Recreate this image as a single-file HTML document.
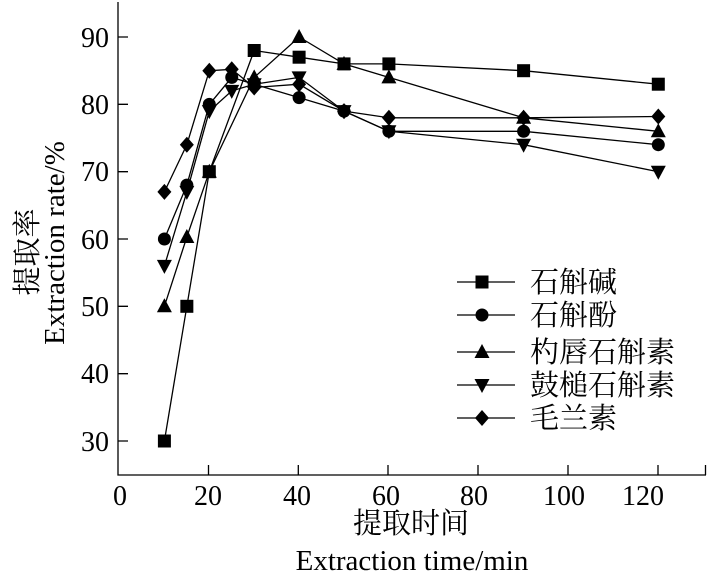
<!DOCTYPE html>
<html><head><meta charset="utf-8"><style>body{margin:0;background:#fff}</style></head><body>
<svg width="709" height="575" xmlns="http://www.w3.org/2000/svg" font-family="Liberation Serif, Noto Serif CJK SC, serif">
<defs>
<rect id="sq" x="-6.5" y="-6.5" width="13" height="13" fill="#000"/>
<circle id="ci" r="6.5" fill="#000"/>
<path id="tu" d="M0,-8 L7.5,6 L-7.5,6Z" fill="#000"/>
<path id="td" d="M0,8 L7.5,-6 L-7.5,-6Z" fill="#000"/>
<path id="di" d="M0,-8 L7,0 L0,8 L-7,0Z" fill="#000"/>
</defs>
<g stroke="#000" stroke-width="1.3" fill="none">
<path d="M118,2 V475 H706"/>
<path d="M118,37h10M118,104.3h10M118,171.7h10M118,239h10M118,306.3h10M118,373.7h10M118,441h10"/>
<path d="M208.5,475v-10M298.3,475v-10M388,475v-10M478,475v-10M568,475v-10M658,475v-10M705.5,475v-10"/>
</g>
<g font-size="28" text-anchor="end">
<text x="109" y="47">90</text><text x="109" y="114">80</text><text x="109" y="181">70</text><text x="109" y="249">60</text><text x="109" y="316">50</text><text x="109" y="383">40</text><text x="109" y="451">30</text>
</g>
<g font-size="28" text-anchor="middle">
<text x="120" y="505">0</text><text x="208" y="505">20</text><text x="297" y="505">40</text><text x="386" y="505">60</text><text x="474" y="505">80</text><text x="564" y="505">100</text><text x="643" y="505">120</text>
<text x="411" y="533" font-family="Noto Serif CJK SC, serif" font-size="29">提取时间</text>
<text x="412" y="570" font-size="29">Extraction time/min</text>
<text transform="translate(37,252) rotate(-90)" font-family="Noto Serif CJK SC, serif" font-size="29">提取率</text>
<text transform="translate(64,243) rotate(-90)" font-size="29">Extraction rate/%</text>
</g>
<g fill="none" stroke="#000" stroke-width="1.3">
<polyline points="164.4,441 186.85,306.3 209.3,171.7 254.2,50.5 299.1,57.2 344,63.9 388.9,63.9 523.6,70.7 658.3,84.2"/>
<polyline points="164.4,239 186.85,185.1 209.3,104.4 231.75,77.4 254.2,84.2 299.1,97.6 344,111.1 388.9,131.3 523.6,131.3 658.3,144.7"/>
<polyline points="164.4,306.3 186.85,237 209.3,171.7 254.2,77.4 299.1,37 344,63.9 388.9,77.4 523.6,117.8 658.3,131.3"/>
<polyline points="164.4,265.9 186.85,191.9 209.3,111.1 231.75,90.9 254.2,84.2 299.1,77.4 344,111.1 388.9,131.3 523.6,144.7 658.3,171.7"/>
<polyline points="164.4,191.9 186.85,144.7 209.3,70.7 231.75,69.3 254.2,87.5 299.1,84.2 344,111.1 388.9,117.8 523.6,117.8 658.3,116.5"/>
</g>
<use href="#sq" x="164.4" y="441"/><use href="#sq" x="186.85" y="306.3"/><use href="#sq" x="209.3" y="171.7"/><use href="#sq" x="254.2" y="50.5"/><use href="#sq" x="299.1" y="57.2"/><use href="#sq" x="344" y="63.9"/><use href="#sq" x="388.9" y="63.9"/><use href="#sq" x="523.6" y="70.7"/><use href="#sq" x="658.3" y="84.2"/>
<use href="#ci" x="164.4" y="239"/><use href="#ci" x="186.85" y="185.1"/><use href="#ci" x="209.3" y="104.4"/><use href="#ci" x="231.75" y="77.4"/><use href="#ci" x="254.2" y="84.2"/><use href="#ci" x="299.1" y="97.6"/><use href="#ci" x="344" y="111.1"/><use href="#ci" x="388.9" y="131.3"/><use href="#ci" x="523.6" y="131.3"/><use href="#ci" x="658.3" y="144.7"/>
<use href="#tu" x="164.4" y="306.3"/><use href="#tu" x="186.85" y="237"/><use href="#tu" x="209.3" y="171.7"/><use href="#tu" x="254.2" y="77.4"/><use href="#tu" x="299.1" y="37"/><use href="#tu" x="344" y="63.9"/><use href="#tu" x="388.9" y="77.4"/><use href="#tu" x="523.6" y="117.8"/><use href="#tu" x="658.3" y="131.3"/>
<use href="#td" x="164.4" y="265.9"/><use href="#td" x="186.85" y="191.9"/><use href="#td" x="209.3" y="111.1"/><use href="#td" x="231.75" y="90.9"/><use href="#td" x="254.2" y="84.2"/><use href="#td" x="299.1" y="77.4"/><use href="#td" x="344" y="111.1"/><use href="#td" x="388.9" y="131.3"/><use href="#td" x="523.6" y="144.7"/><use href="#td" x="658.3" y="171.7"/>
<use href="#di" x="164.4" y="191.9"/><use href="#di" x="186.85" y="144.7"/><use href="#di" x="209.3" y="70.7"/><use href="#di" x="231.75" y="69.3"/><use href="#di" x="254.2" y="87.5"/><use href="#di" x="299.1" y="84.2"/><use href="#di" x="344" y="111.1"/><use href="#di" x="388.9" y="117.8"/><use href="#di" x="523.6" y="117.8"/><use href="#di" x="658.3" y="116.5"/>
<g font-family="Noto Serif CJK SC, serif" font-size="29">
<text x="530" y="292">石斛碱</text><text x="530" y="325">石斛酚</text><text x="530" y="362">杓唇石斛素</text><text x="530" y="395">鼓槌石斛素</text><text x="530" y="428">毛兰素</text>
</g>
<g stroke="#000" stroke-width="1.3">
<path d="M457,282h58M457,315h58M457,352h58M457,385h58M457,418h58"/>
</g>
<use href="#sq" x="482" y="282"/><use href="#ci" x="482" y="315"/><use href="#tu" x="482" y="352"/><use href="#td" x="482" y="385"/><use href="#di" x="482" y="418"/>
</svg>
</body></html>
